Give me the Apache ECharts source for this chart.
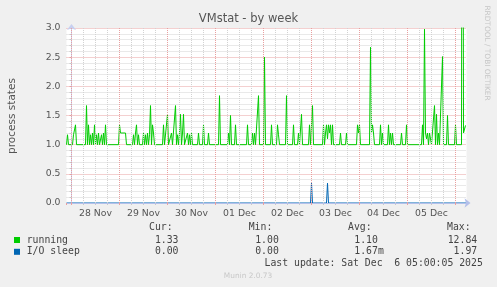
<!DOCTYPE html>
<html><head><meta charset="utf-8">
<script src="https://cdn.jsdelivr.net/npm/echarts@6/dist/echarts.min.js"></script>
<style>html,body{margin:0;padding:0;background:#F0F0F0}#c{width:497px;height:287px}</style>
</head><body><div id="c"></div>
<script>
// ---- data (hours since 28 Nov 00:00) ----
const chartTitle = 'VMstat - by week';
const yAxisName = 'process states';
const dayLabels = ['28 Nov','29 Nov','30 Nov','01 Dec','02 Dec','03 Dec','04 Dec','05 Dec'];
const yTicks = ['0.0','0.5','1.0','1.5','2.0','2.5','3.0'];
const seriesNames = ['running','I/O sleep'];
const seriesColors = ['#00CC00','#0066B3'];
const curValues = ['1.33','0.00'];
const minValues = ['1.00','0.00'];
const avgValues = ['1.10','1.67m'];
const maxValues = ['12.84','1.97'];
const lastUpdate = 'Last update: Sat Dec  6 05:00:05 2025';
const runningPoints = [
 [-2.5,1.0],[-2.0,1.17],[-1.5,1.0],
 [0.5,1.0],[1.0,1.17],[1.5,1.2],[2.0,1.34],[2.5,1.0],
 [7.0,1.0],[7.5,1.67],[8.0,1.0],[8.5,1.34],[9.0,1.0],[9.5,1.17],[10.0,1.0],[10.5,1.2],[11.0,1.0],[11.5,1.34],[12.0,1.0],[12.5,1.17],[13.0,1.0],[13.5,1.2],[14.0,1.0],[14.5,1.0],[15.0,1.17],[15.5,1.0],[16.0,1.2],[16.5,1.0],[17.0,1.34],[17.5,1.0],
 [23.5,1.0],[24.0,1.34],[24.5,1.2],[27.0,1.2],[27.5,1.0],
 [30.5,1.0],[31.0,1.17],[31.5,1.0],[32.0,1.2],[32.5,1.34],[33.0,1.0],[33.5,1.17],[34.0,1.0],[35.5,1.0],[36.0,1.2],[36.5,1.0],[37.0,1.17],[37.5,1.0],[38.0,1.2],[38.5,1.0],[39.0,1.17],[39.5,1.67],[40.0,1.0],[40.5,1.34],[41.0,1.2],[41.5,1.0],
 [45.5,1.0],[46.0,1.34],[46.5,1.0],
 [47.5,1.0],[48.0,1.52],[48.5,1.0],[49.5,1.0],[50.0,1.2],[50.5,1.0],
 [51.5,1.0],[52.0,1.67],[52.5,1.0],[53.0,1.17],[53.5,1.0],[54.0,1.2],[54.5,1.52],[55.0,1.0],[55.5,1.2],[56.0,1.52],[56.5,1.0],[57.5,1.0],[58.0,1.2],[58.5,1.0],[59.0,1.17],[59.5,1.0],[60.0,1.2],[60.5,1.0],
 [63.0,1.0],[63.5,1.2],[64.0,1.0],
 [65.5,1.0],[66.0,1.34],[66.5,1.0],
 [68.0,1.0],[68.5,1.2],[69.0,1.0],
 [73.5,1.0],[74.0,1.84],[74.5,1.0],
 [78.0,1.0],[78.5,1.2],[79.0,1.0],[79.5,1.5],[80.0,1.0],
 [81.5,1.0],[82.0,1.34],[82.5,1.0],
 [87.5,1.0],[88.0,1.34],[88.5,1.0],
 [90.0,1.0],[90.5,1.2],[91.0,1.0],[91.5,1.2],[92.0,1.0],
 [93.0,1.0],[93.5,1.84],[94.0,1.0],
 [96.0,1.0],[96.5,2.5],[97.0,1.0],
 [99.5,1.0],[100.0,1.34],[100.5,1.0],
 [102.5,1.0],[103.0,1.34],[103.5,1.17],[104.0,1.0],
 [107.0,1.0],[107.5,1.84],[108.0,1.0],
 [110.5,1.0],[111.0,1.34],[111.5,1.0],
 [113.0,1.0],[113.5,1.2],[114.0,1.0],
 [114.5,1.0],[115.0,1.52],[115.5,1.0],
 [118.5,1.0],[119.0,1.34],[119.5,1.0],
 [120.0,1.0],[120.5,1.67],[121.0,1.0],
 [125.5,1.0],[126.0,1.34],[126.5,1.0],[127.0,1.2],[127.5,1.34],[128.0,1.1],[128.5,1.34],[129.0,1.2],[129.5,1.34],[130.0,1.0],[130.5,1.34],[131.0,1.0],
 [134.0,1.0],[134.5,1.2],[135.0,1.0],
 [137.0,1.0],[137.5,1.2],[138.0,1.0],
 [142.5,1.0],[143.0,1.34],[143.5,1.2],[144.0,1.34],[144.5,1.0],
 [149.0,1.0],[149.5,2.67],[150.0,1.2],[150.5,1.34],[151.0,1.2],[151.5,1.0],
 [154.0,1.0],[154.5,1.34],[155.0,1.0],[155.5,1.2],[156.0,1.0],
 [158.0,1.0],[158.5,1.34],[159.0,1.0],[159.5,1.2],[160.0,1.0],[160.5,1.2],[161.0,1.0],
 [164.5,1.0],[165.0,1.2],[165.5,1.0],
 [167.0,1.0],[167.5,1.34],[168.0,1.0],
 [175.0,1.0],[175.5,1.34],[176.0,1.0],[176.5,2.98],[177.0,1.2],[177.5,1.1],[178.0,1.2],[178.5,1.0],[179.0,1.2],[179.5,1.2],[180.0,1.0],
 [181.0,1.0],[181.5,1.67],[182.0,1.0],[182.5,1.52],[183.0,1.0],[183.5,1.2],[184.0,1.0],
 [185.0,1.0],[185.5,2.51],[186.0,1.0],
 [187.5,1.0],[188.0,1.5],[188.5,1.0],
 [191.5,1.0],[192.0,1.34],[192.5,1.0],
 [195.0,1.0],[195.5,12.84],[196.0,1.2],[196.5,1.2],[197.0,1.33]
];
const ioSleepPoints = [
 [-2.5,0],[119.5,0],[120.0,0.34],[120.5,0],[127.5,0],[128.0,0.34],[128.5,0],[197.5,0]
];
const xMin = -2.5, xMax = 197.5;

// ---- chart ----
const chart = echarts.init(document.getElementById('c'), null, {renderer:'canvas'});
const majorHours = [], minorHours = [];
for (let h = 0; h <= 192; h += 6) (h % 24 === 0 ? majorHours : minorHours).push(h);
const axisCol = '#B4C0EA';
const majorCol = '#E8A0A0';
const minorCol = '#D2D2D2';
const textCol = '#555';
const mono = '"DejaVu Sans Mono", monospace';
const sans = '"DejaVu Sans", sans-serif';

const graphics = [];
graphics.push({type:'text', x:248.5, y:19.5, style:{text:chartTitle, font:'11.5px '+sans, fill:textCol, align:'center', verticalAlign:'middle'}});
graphics.push({type:'text', x:12, y:116, rotation:Math.PI/2, style:{text:yAxisName, font:'10.5px '+sans, fill:textCol, align:'center', verticalAlign:'middle'}});
graphics.push({type:'text', x:487, y:53, rotation:-Math.PI/2, style:{text:'RRDTOOL / TOBI OETIKER', font:'7.4px '+sans, fill:'#C6C6C6', align:'center', verticalAlign:'middle'}});
graphics.push({type:'text', x:248, y:276.5, style:{text:'Munin 2.0.73', font:'7.4px '+sans, fill:'#C8C8C8', align:'center', verticalAlign:'middle'}});
const headers = [['Cur:',149],['Min:',248.7],['Avg:',348],['Max:',447]];
headers.forEach(h => graphics.push({type:'text', x:h[1], y:227.5, style:{text:h[0], font:'9.8px '+mono, fill:'#444', align:'left', verticalAlign:'middle'}}));
seriesNames.forEach((n, i) => {
  const y = 240 + i * 11.8;
  graphics.push({type:'rect', shape:{x:14, y:y-3, width:6, height:6}, style:{fill:seriesColors[i]}});
  graphics.push({type:'text', x:26.7, y:y, style:{text:n, font:'9.8px '+mono, fill:'#444', align:'left', verticalAlign:'middle'}});
  graphics.push({type:'text', x:178.5, y:y, style:{text:curValues[i], font:'9.8px '+mono, fill:'#444', align:'right', verticalAlign:'middle'}});
  graphics.push({type:'text', x:278.8, y:y, style:{text:minValues[i], font:'9.8px '+mono, fill:'#444', align:'right', verticalAlign:'middle'}});
  graphics.push({type:'text', x:354.3, y:y, style:{text:avgValues[i], font:'9.8px '+mono, fill:'#444', align:'left', verticalAlign:'middle'}});
  graphics.push({type:'text', x:477.2, y:y, style:{text:maxValues[i], font:'9.8px '+mono, fill:'#444', align:'right', verticalAlign:'middle'}});
});
graphics.push({type:'text', x:482.8, y:263.5, style:{text:lastUpdate, font:'9.8px '+mono, fill:'#444', align:'right', verticalAlign:'middle'}});

function gridSeries(hours, color) {
  return {type:'line', xAxisIndex:0, data:[], z:1, silent:true, color:color,
    lineStyle:{color:color}, itemStyle:{color:color},
    markLine:{silent:true, symbol:'none', animation:false, label:{show:false},
      lineStyle:{color:color, type:[1,1], width:1, opacity:1},
      emphasis:{disabled:true},
      data: hours.map(h => ({xAxis:h}))}};
}

const option = {
  animation: false,
  backgroundColor: '#F0F0F0',
  grid: {left:66.5, right:30.5, top:28, bottom:84, show:true, backgroundColor:'#FFFFFF', borderWidth:0},
  xAxis: [
    {type:'value', position:'bottom', z:6, min:xMin, max:xMax, minInterval:24, maxInterval:24,
     axisLine:{show:true, lineStyle:{color:axisCol, width:1}, symbol:['none','arrow'], symbolSize:[7,6], symbolOffset:[0,4]},
     axisTick:{show:true, length:2, lineStyle:{color:majorCol}},
     axisLabel:{show:false}, splitLine:{show:false}},
    {type:'value', position:'bottom', offset:0, min:xMin, max:xMax, minInterval:6, maxInterval:6,
     axisLine:{show:false}, axisTick:{show:true, length:2, lineStyle:{color:'#C8C8C8'}},
     axisLabel:{show:false}, splitLine:{show:false}},
    {type:'value', position:'bottom', offset:0, min:xMin-12, max:xMax-12, minInterval:24, maxInterval:24,
     axisLine:{show:false}, axisTick:{show:false}, splitLine:{show:false},
     axisLabel:{show:true, margin:6, color:textCol, fontFamily:'DejaVu Sans', fontSize:9.3, showMinLabel:false, showMaxLabel:false,
       formatter: v => { const i = Math.round(v/24); return (i >= 0 && i < dayLabels.length && Math.abs(v - i*24) < 1e-6) ? dayLabels[i] : ''; }}}
  ],
  yAxis: {type:'value', min:0, max:3, interval:0.5,
    axisLine:{show:true, lineStyle:{color:'#C8D0F0', width:1}, symbol:['none','arrow'], symbolSize:[7,6], symbolOffset:[0,4]},
    axisTick:{show:true, length:2, lineStyle:{color:majorCol}},
    minorTick:{show:true, splitNumber:5, length:2, lineStyle:{color:'#C8C8C8'}},
    axisLabel:{margin:6, color:textCol, fontFamily:'DejaVu Sans', fontSize:9.3, formatter: v => yTicks[Math.round(v*2)]},
    splitLine:{show:true, lineStyle:{color:majorCol, type:[1,1], width:1}},
    minorSplitLine:{show:true, lineStyle:{color:minorCol, type:[1,1], width:1}}
  },
  series: [
    gridSeries(minorHours, minorCol),
    gridSeries(majorHours, majorCol),
    {type:'line', name:seriesNames[0], xAxisIndex:0, data:runningPoints, showSymbol:false, z:3,
     lineStyle:{color:seriesColors[0], width:1}, itemStyle:{color:seriesColors[0]}},
    {type:'line', name:seriesNames[1], xAxisIndex:0, data:ioSleepPoints, showSymbol:false, z:4,
     lineStyle:{color:seriesColors[1], width:1}, itemStyle:{color:seriesColors[1]}}
  ],
  graphic: graphics
};
chart.setOption(option);
</script></body></html>
